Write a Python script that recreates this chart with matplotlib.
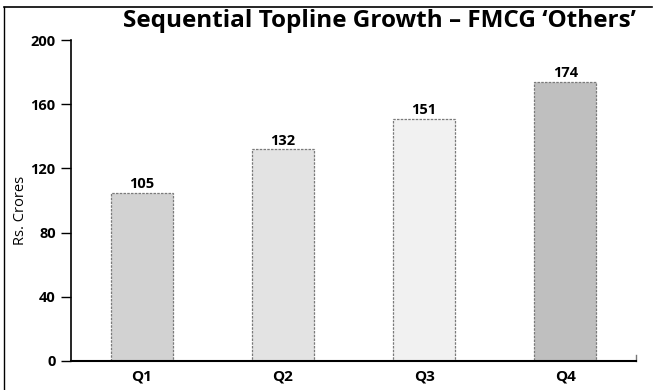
import matplotlib.pyplot as plt
from matplotlib.lines import Line2D

plt.rcParams['font.family'] = ['Open Sans', 'DejaVu Sans']

quarters = ['Q1', 'Q2', 'Q3', 'Q4']
sales = [105, 132, 151, 174]
# scanned stipple tones, approximated as flat greys
shades = ['#d2d2d2', '#e3e3e3', '#f1f1f1', '#bfbfbf']

fig = plt.figure(figsize=(6.55, 3.9), dpi=100)
ax = fig.add_axes([0.1084, 0.0744, 0.8626, 0.8226])

x = range(len(quarters))
bars = ax.bar(x, sales, width=0.44, color=shades, edgecolor='#7a7a7a',
              linewidth=0.9, linestyle=(0, (2, 1)))
for b, v in zip(bars, sales):
    ax.text(b.get_x() + b.get_width() / 2, v + 1.0, str(v), ha='center', va='bottom',
            fontsize=10.5, fontweight='bold')

ax.set_xlim(-0.5, 3.5)
ax.set_ylim(0, 200)
ax.set_yticks([0, 40, 80, 120, 160, 200])
ax.set_xticks(list(x))
ax.set_xticklabels(quarters, fontweight='bold', fontsize=11)
for lab in ax.get_yticklabels():
    lab.set_fontweight('bold')
    lab.set_fontsize(10.5)
ax.tick_params(axis='y', length=7, width=1, pad=4)
ax.tick_params(axis='x', length=0, pad=6)
ax.spines['top'].set_visible(False)
ax.spines['right'].set_visible(False)
ax.spines['left'].set_linewidth(1.2)
ax.spines['bottom'].set_linewidth(1.5)
ax.set_ylabel('Rs. Crores', fontsize=10.5)
ax.yaxis.set_label_coords(-0.076, 0.47)

# little end mark on the right of the x axis
ax.plot([3.5, 3.5], [0, 4], color='#777777', lw=1, clip_on=False)

fig.text(0.58, 0.947, "Sequential Topline Growth \u2013 FMCG \u2018Others\u2019",
         ha='center', va='center', fontsize=17.5, fontweight='bold')

# frame of the scanned box
fig.add_artist(Line2D([0.006, 0.995], [0.982, 0.982], color='black', lw=1.2))
fig.add_artist(Line2D([0.006, 0.006], [0.0, 0.982], color='black', lw=1.0))

fig.savefig('out.png', dpi=100)
